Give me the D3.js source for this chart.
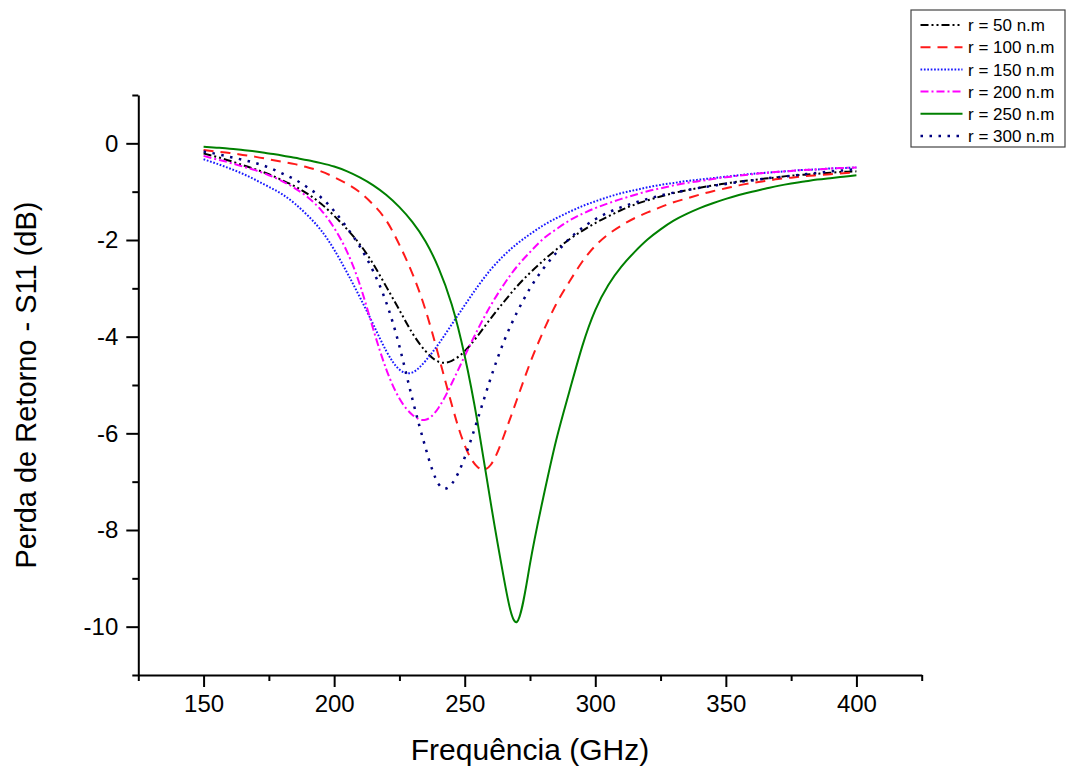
<!DOCTYPE html>
<html>
<head>
<meta charset="utf-8">
<script src="https://cdn.jsdelivr.net/npm/d3@7"></script>
<style>
  body { margin: 0; background: #fff; }
  svg { display: block; font-family: "Liberation Sans", Arial, sans-serif; }
</style>
</head>
<body>
<svg id="chart" width="1068" height="771"></svg>
<script>
// Frequency sweep (GHz), shared by every radius
const freq = [150, 155, 160, 165, 170, 175, 180, 185, 190, 195,
              200, 205, 210, 215, 220, 225, 230, 235, 240, 245,
              250, 255, 260, 265, 270, 275, 280, 285, 290, 295,
              300, 305, 310, 315, 320, 325, 330, 335, 340, 345,
              350, 355, 360, 365, 370, 375, 380, 385, 390, 395, 400];

// Return loss S11 (dB) for each nanoparticle radius
const s11_r50 = [-0.21, -0.28, -0.36, -0.45, -0.54, -0.64, -0.76, -0.89, -1.05, -1.25,
                 -1.50, -1.78, -2.10, -2.50, -2.97, -3.45, -3.93, -4.30, -4.52, -4.50,
                 -4.30, -3.98, -3.62, -3.28, -2.96, -2.68, -2.43, -2.20, -1.99, -1.81,
                 -1.65, -1.51, -1.38, -1.27, -1.18, -1.10, -1.03, -0.97, -0.92, -0.87,
                 -0.83, -0.79, -0.76, -0.73, -0.70, -0.67, -0.65, -0.63, -0.61, -0.59, -0.58];
const s11_r100 = [-0.14, -0.17, -0.20, -0.24, -0.28, -0.33, -0.38, -0.43, -0.50, -0.58,
                  -0.70, -0.84, -1.02, -1.27, -1.60, -2.10, -2.70, -3.45, -4.40, -5.40,
                  -6.25, -6.70, -6.65, -6.05, -5.30, -4.55, -3.90, -3.33, -2.87, -2.45,
                  -2.12, -1.88, -1.70, -1.55, -1.43, -1.32, -1.22, -1.14, -1.06, -0.99,
                  -0.93, -0.87, -0.82, -0.78, -0.74, -0.71, -0.68, -0.66, -0.64, -0.62, -0.60];
const s11_r150 = [-0.33, -0.42, -0.52, -0.63, -0.76, -0.90, -1.05, -1.25, -1.50, -1.80,
                  -2.20, -2.68, -3.20, -3.75, -4.30, -4.68, -4.74, -4.50, -4.15, -3.75,
                  -3.35, -2.96, -2.61, -2.32, -2.08, -1.88, -1.70, -1.55, -1.42, -1.30,
                  -1.20, -1.11, -1.03, -0.97, -0.91, -0.86, -0.82, -0.78, -0.75, -0.72,
                  -0.69, -0.66, -0.63, -0.61, -0.59, -0.57, -0.55, -0.54, -0.52, -0.51, -0.50];
const s11_r200 = [-0.26, -0.33, -0.40, -0.48, -0.56, -0.66, -0.78, -0.93, -1.12, -1.38,
                  -1.75, -2.25, -2.95, -3.85, -4.68, -5.28, -5.62, -5.72, -5.47, -4.97,
                  -4.40, -3.85, -3.35, -2.92, -2.55, -2.25, -1.98, -1.78, -1.60, -1.46,
                  -1.34, -1.24, -1.15, -1.07, -0.99, -0.93, -0.87, -0.82, -0.78, -0.74,
                  -0.70, -0.67, -0.64, -0.61, -0.59, -0.57, -0.55, -0.54, -0.52, -0.51, -0.50];
const s11_r250 = [-0.07, -0.09, -0.11, -0.14, -0.17, -0.21, -0.25, -0.30, -0.35, -0.41,
                  -0.48, -0.58, -0.71, -0.87, -1.07, -1.32, -1.63, -2.03, -2.58, -3.33,
                  -4.40, -5.80, -7.45, -9.00, -9.90, -8.70, -7.35, -6.15, -5.15, -4.20,
                  -3.45, -2.93, -2.55, -2.25, -1.99, -1.78, -1.60, -1.46, -1.34, -1.24,
                  -1.15, -1.07, -1.00, -0.94, -0.88, -0.83, -0.79, -0.75, -0.72, -0.69, -0.66];
const s11_r300 = [-0.17, -0.22, -0.28, -0.34, -0.41, -0.50, -0.62, -0.75, -0.92, -1.12,
                  -1.40, -1.75, -2.15, -2.65, -3.30, -4.20, -5.30, -6.30, -7.05, -7.05,
                  -6.50, -5.70, -4.85, -4.10, -3.50, -3.00, -2.60, -2.27, -1.98, -1.75,
                  -1.57, -1.43, -1.32, -1.23, -1.15, -1.08, -1.02, -0.97, -0.92, -0.88,
                  -0.84, -0.80, -0.77, -0.73, -0.70, -0.67, -0.64, -0.61, -0.58, -0.56, -0.53];

const seriesLabels = ["r = 50 n.m", "r = 100 n.m", "r = 150 n.m",
                      "r = 200 n.m", "r = 250 n.m", "r = 300 n.m"];
const seriesValues = [s11_r50, s11_r100, s11_r150, s11_r200, s11_r250, s11_r300];

const xTicks = [150, 200, 250, 300, 350, 400];
const xMinorTicks = [125, 175, 225, 275, 325, 375, 425];
const yTicks = [0, -2, -4, -6, -8, -10];
const yMinorTicks = [1, -1, -3, -5, -7, -9, -11];

// Line appearance per radius
const styles = [
  { color: "#000000", dash: "8,3,2,3,2,3", width: 2 },
  { color: "#ff1a1a", dash: "10,7",        width: 2 },
  { color: "#1a1aff", dash: "1.7,1.7",     width: 2 },
  { color: "#ff00ff", dash: "8,3,2,3",     width: 2 },
  { color: "#008000", dash: null,          width: 2 },
  { color: "#000080", dash: "2.5,6.5",     width: 2.5 }
];

const svg = d3.select("#chart");
svg.append("rect").attr("width", 1068).attr("height", 771).attr("fill", "#fff");

const x = d3.scaleLinear().domain([125, 425]).range([138.3, 921.7]);
const y = d3.scaleLinear().domain([-11, 1]).range([675, 95]);

// Curves
const line = d3.line()
  .x(d => x(d[0]))
  .y(d => y(d[1]))
  .curve(d3.curveNatural);

const plot = svg.append("g");
seriesValues.forEach((vals, i) => {
  const pts = freq.map((f, k) => [f, vals[k]]);
  const st = styles[i];
  plot.append("path")
    .datum(pts)
    .attr("d", line)
    .attr("fill", "none")
    .attr("stroke", st.color)
    .attr("stroke-width", st.width)
    .attr("stroke-dasharray", st.dash);
});

// Axes
function styleAxis(g) {
  g.selectAll("path, line").attr("stroke", "#000").attr("stroke-width", 2);
  g.selectAll("text").attr("fill", "#000").attr("font-size", 24)
    .attr("font-family", '"Liberation Sans", Arial, sans-serif');
}

svg.append("g")
  .attr("transform", `translate(0,${y(-11)})`)
  .call(d3.axisBottom(x).tickValues(xMinorTicks).tickSize(6).tickSizeOuter(0).tickFormat(""))
  .call(g => g.select(".domain").remove())
  .call(styleAxis);

svg.append("g")
  .attr("transform", `translate(0,${y(-11)})`)
  .call(d3.axisBottom(x).tickValues(xTicks).tickSize(12).tickSizeOuter(0).tickPadding(8))
  .call(styleAxis);

svg.append("g")
  .attr("transform", `translate(${x(125)},0)`)
  .call(d3.axisLeft(y).tickValues(yMinorTicks).tickSize(6).tickSizeOuter(0).tickFormat(""))
  .call(g => g.select(".domain").remove())
  .call(styleAxis);

svg.append("g")
  .attr("transform", `translate(${x(125)},0)`)
  .call(d3.axisLeft(y).tickValues(yTicks).tickSize(12).tickSizeOuter(0).tickPadding(8)
        .tickFormat(d => d3.format("d")(d).replace("\u2212", "-")))
  .call(styleAxis);

// Axis titles
svg.append("text")
  .attr("x", (x(125) + x(425)) / 2)
  .attr("y", 760)
  .attr("text-anchor", "middle")
  .attr("font-size", 30)
  .text("Frequência (GHz)");

svg.append("text")
  .attr("transform", `translate(36,${(y(1) + y(-11)) / 2}) rotate(-90)`)
  .attr("text-anchor", "middle")
  .attr("font-size", 29)
  .text("Perda de Retorno - S11 (dB)");

// Legend
const legend = svg.append("g");
legend.append("rect")
  .attr("x", 911).attr("y", 10).attr("width", 154).attr("height", 137)
  .attr("fill", "#fff").attr("stroke", "#444").attr("stroke-width", 1.2);

seriesLabels.forEach((lab, i) => {
  const cy = 25 + i * 22.2;
  const st = styles[i];
  legend.append("line")
    .attr("x1", 920.5).attr("x2", 962.5).attr("y1", cy).attr("y2", cy)
    .attr("stroke", st.color).attr("stroke-width", st.width)
    .attr("stroke-dasharray", st.dash);
  legend.append("text")
    .attr("x", 968).attr("y", cy).attr("dy", "0.36em")
    .attr("font-size", 17)
    .text(lab);
});
</script>
</body>
</html>
